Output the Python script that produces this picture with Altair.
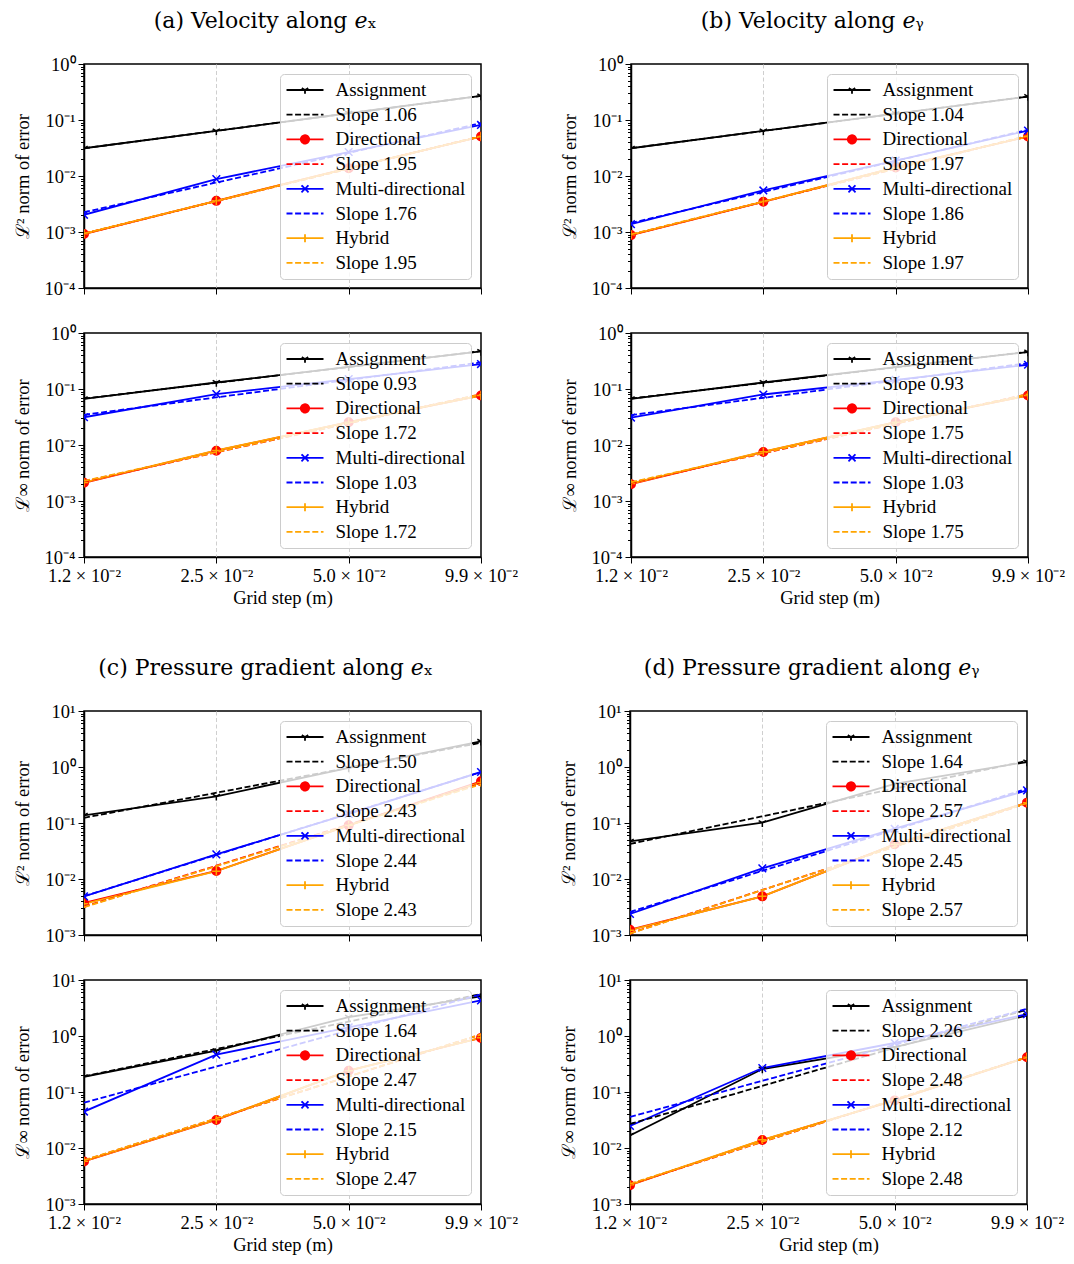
import json
import altair as alt
import pandas as pd

# ---------------- data ----------------
grid_step = [0.012375, 0.02475, 0.0495, 0.099]
x_tick_labels = ["1.2 × 10⁻²", "2.5 × 10⁻²", "5.0 × 10⁻²", "9.9 × 10⁻²"]
series_names = ["Assignment", "Directional", "Multi-directional", "Hybrid"]
series_colors = ["#000000", "#ff0000", "#0000ff", "#ffa500"]

# (a) Velocity along e_x
vx_l2_assignment = [0.0313, 0.0638, 0.132, 0.269]
vx_l2_directional = [0.00092, 0.0036, 0.0138, 0.0506]
vx_l2_multi = [0.00203, 0.0088, 0.0268, 0.0817]
vx_l2_hybrid = [0.00093, 0.0036, 0.0138, 0.0506]
vx_l2_slopes = ["1.06", "1.95", "1.76", "1.95"]

vx_linf_assignment = [0.0667, 0.1306, 0.249, 0.469]
vx_linf_directional = [0.00211, 0.00792, 0.0255, 0.0766]
vx_linf_multi = [0.0313, 0.0813, 0.150, 0.279]
vx_linf_hybrid = [0.00215, 0.0080, 0.0255, 0.0766]
vx_linf_slopes = ["0.93", "1.72", "1.03", "1.72"]

# (b) Velocity along e_y
vy_l2_assignment = [0.0313, 0.0638, 0.130, 0.262]
vy_l2_directional = [0.00088, 0.00346, 0.0142, 0.0506]
vy_l2_multi = [0.00138, 0.00552, 0.0189, 0.0648]
vy_l2_hybrid = [0.00089, 0.0035, 0.0142, 0.0506]
vy_l2_slopes = ["1.04", "1.97", "1.86", "1.97"]

vy_linf_assignment = [0.0667, 0.1306, 0.246, 0.457]
vy_linf_directional = [0.0020, 0.0075, 0.0255, 0.0766]
vy_linf_multi = [0.0309, 0.0798, 0.146, 0.271]
vy_linf_hybrid = [0.00205, 0.0076, 0.0255, 0.0766]
vy_linf_slopes = ["0.93", "1.75", "1.03", "1.75"]

# (c) Pressure gradient along e_x
gx_l2_assignment = [0.137, 0.299, 0.96, 2.87]
gx_l2_directional = [0.00373, 0.0139, 0.0908, 0.555]
gx_l2_multi = [0.0049, 0.0275, 0.145, 0.815]
gx_l2_hybrid = [0.0036, 0.0138, 0.091, 0.53]
gx_l2_slopes = ["1.50", "2.43", "2.44", "2.43"]

gx_linf_assignment = [0.187, 0.547, 2.17, 5.09]
gx_linf_directional = [0.00574, 0.0317, 0.24, 0.925]
gx_linf_multi = [0.0447, 0.464, 1.43, 4.32]
gx_linf_hybrid = [0.0058, 0.032, 0.24, 0.93]
gx_linf_slopes = ["1.64", "2.47", "2.15", "2.47"]

# (d) Pressure gradient along e_y
gy_l2_assignment = [0.0471, 0.1014, 0.5, 1.23]
gy_l2_directional = [0.00124, 0.0049, 0.0416, 0.231]
gy_l2_multi = [0.00237, 0.0155, 0.079, 0.383]
gy_l2_hybrid = [0.00122, 0.0049, 0.0416, 0.231]
gy_l2_slopes = ["1.64", "2.57", "2.45", "2.57"]

gy_linf_assignment = [0.0168, 0.257, 0.63, 2.32]
gy_linf_directional = [0.00216, 0.0139, 0.0708, 0.416]
gy_linf_multi = [0.0247, 0.268, 0.75, 2.45]
gy_linf_hybrid = [0.0022, 0.014, 0.0708, 0.416]
gy_linf_slopes = ["2.26", "2.48", "2.12", "2.48"]

major_vel = [0.0001, 0.001, 0.01, 0.1, 1.0]
major_vel_labels = ["10⁻⁴", "10⁻³", "10⁻²", "10⁻¹", "10⁰"]
major_grad = [0.001, 0.01, 0.1, 1.0, 10.0]
major_grad_labels = ["10⁻³", "10⁻²", "10⁻¹", "10⁰", "10¹"]

panel_titles = [
    "(a) Velocity along 𝑒ₓ",
    "(b) Velocity along 𝑒ᵧ",
    "(c) Pressure gradient along 𝑒ₓ",
    "(d) Pressure gradient along 𝑒ᵧ",
]
l2_title = "ℒ² norm of error"
linf_title = "ℒ∞ norm of error"
x_title = "Grid step (m)"

# ---------------- styling ----------------
SERIF = "Liberation Serif"
TITLE_FONT = "DejaVu Serif"
FS = 18.5
LEG_FS = 19
PLOT_W, PLOT_H = 397, 224

marker_paths = [
    "M0,0L0,1M0,0L-0.866,-0.5M0,0L0.866,-0.5",   # tri_down
    "circle",
    "M-0.9,-0.9L0.9,0.9M-0.9,0.9L0.9,-0.9",       # x
    "M-1,0L1,0M0,-1L0,1",                         # +
]
LINE = "M-2,0L2,0"
legend_marker_paths = [
    LINE + "M0,0L0,0.4M0,0L-0.35,-0.2M0,0L0.35,-0.2",
    LINE + "M-0.45,0A0.45,0.45,0,1,0,0.45,0A0.45,0.45,0,1,0,-0.45,0Z",
    LINE + "M-0.38,-0.38L0.38,0.38M-0.38,0.38L0.38,-0.38",
    LINE + "M0,-0.44L0,0.44",
]
DASH = [6, 2.6]


def minor_ticks(major):
    out = []
    for m in major[:-1]:
        for k in range(2, 10):
            out.append(round(m * k, 12))
    return out


def label_expr(values, labels):
    expr = "''"
    for v, lab in reversed(list(zip(values, labels))):
        expr = f"datum.value == {v!r} ? '{lab}' : {expr}"
    return expr


def make_plot(values, slopes, y_title, major, major_labels, show_x):
    rows = []
    for s, vals in zip(series_names, values):
        for xv, yv in zip(grid_step, vals):
            rows.append({"series": s, "x": xv, "y": yv})
    df = pd.DataFrame(rows)

    keys, leg_colors, leg_paths, leg_dash = [], [], [], []
    for i, (s, sl) in enumerate(zip(series_names, slopes)):
        keys += [f"{2 * i + 1}|{s}", f"{2 * i + 2}|Slope {sl}"]
        leg_colors += [series_colors[i], series_colors[i]]
        leg_paths += [legend_marker_paths[i], LINE]
        leg_dash += [[1, 0], DASH]
    legend_df = pd.DataFrame({"key": keys})

    tick_vals = sorted(major + minor_ticks(major))
    y_axis = alt.Axis(
        values=tick_vals,
        labelExpr=label_expr(major, major_labels),
        tickSize={"condition": {"test": f"indexof({json.dumps(major)}, datum.value) >= 0", "value": 6},
                  "value": 3.5},
        title=y_title,
        grid=False,
        labelPadding=3,
        titlePadding=12,
    )
    edge_test = f"datum.value == {grid_step[0]!r} || datum.value == {grid_step[-1]!r}"
    grid_opacity = {"condition": {"test": edge_test, "value": 0}, "value": 1}
    if show_x:
        x_axis = alt.Axis(values=grid_step, labelExpr=label_expr(grid_step, x_tick_labels),
                          labelFlush=False, title=x_title, grid=True, gridDash=[4, 2.5],
                          gridColor="#cfcfcf", gridOpacity=grid_opacity,
                          tickSize=6, labelPadding=3, titlePadding=4)
    else:
        x_axis = alt.Axis(values=grid_step, labels=False, title=None, grid=True,
                          gridDash=[4, 2.5], gridColor="#cfcfcf", gridOpacity=grid_opacity,
                          tickSize=6)

    xs = alt.Scale(type="log", domain=[grid_step[0], grid_step[-1]], nice=False)
    ys = alt.Scale(type="log", domain=[major[0], major[-1]], nice=False)
    ex = alt.X("x:Q", scale=xs, axis=x_axis)
    ey = alt.Y("y:Q", scale=ys, axis=y_axis)
    color = alt.Color("series:N", scale=alt.Scale(domain=series_names, range=series_colors), legend=None)

    base = alt.Chart(df)
    lines = base.mark_line(strokeWidth=1.8, clip=True).encode(x=ex, y=ey, color=color)
    fits = base.transform_regression("x", "y", method="pow", groupby=["series"]).mark_line(
        strokeWidth=1.8, strokeDash=DASH, clip=True).encode(x=ex, y=ey, color=color)
    points = base.mark_point(filled=True, size=72, strokeWidth=1.5, opacity=1, clip=True).encode(
        x=ex, y=ey,
        fill=alt.Fill("series:N", scale=alt.Scale(domain=series_names, range=series_colors), legend=None),
        stroke=alt.Stroke("series:N", scale=alt.Scale(domain=series_names, range=series_colors), legend=None),
        shape=alt.Shape("series:N", scale=alt.Scale(domain=series_names, range=marker_paths), legend=None),
    )

    leg = alt.Legend(
        title=None, orient="top-right", offset=10,
        labelExpr="split(datum.label, '|')[1]",
        symbolSize=342, symbolStrokeWidth=1.8, symbolOpacity=1, symbolOffset=9,
        labelFont=SERIF, labelFontSize=LEG_FS, labelColor="black", labelOffset=20,
        padding=5.5, rowPadding=3.7,
        strokeColor="#cccccc", fillColor="rgba(255,255,255,0.8)", cornerRadius=4,
    )
    legend_layer = alt.Chart(legend_df).mark_point(filled=True, opacity=0).encode(
        fill=alt.Fill("key:N", scale=alt.Scale(domain=keys, range=leg_colors), legend=leg),
        stroke=alt.Stroke("key:N", scale=alt.Scale(domain=keys, range=leg_colors), legend=leg),
        shape=alt.Shape("key:N", scale=alt.Scale(domain=keys, range=leg_paths), legend=leg),
        strokeDash=alt.StrokeDash("key:N", scale=alt.Scale(domain=keys, range=leg_dash), legend=leg),
    )

    return alt.layer(lines, points, fits, legend_layer).resolve_scale(
        fill="independent", stroke="independent", shape="independent", strokeDash="independent"
    ).properties(width=PLOT_W, height=PLOT_H)


def make_panel(title, top_vals, top_slopes, bot_vals, bot_slopes, major, major_labels):
    top = make_plot(top_vals, top_slopes, l2_title, major, major_labels, False)
    bot = make_plot(bot_vals, bot_slopes, linf_title, major, major_labels, True)
    return alt.vconcat(top, bot, spacing=24).properties(
        title=alt.TitleParams(title, anchor="middle", offset=21, font=TITLE_FONT, fontSize=22,
                              fontWeight="normal", color="black")
    )


panel_a = make_panel(panel_titles[0],
                     [vx_l2_assignment, vx_l2_directional, vx_l2_multi, vx_l2_hybrid], vx_l2_slopes,
                     [vx_linf_assignment, vx_linf_directional, vx_linf_multi, vx_linf_hybrid], vx_linf_slopes,
                     major_vel, major_vel_labels)
panel_b = make_panel(panel_titles[1],
                     [vy_l2_assignment, vy_l2_directional, vy_l2_multi, vy_l2_hybrid], vy_l2_slopes,
                     [vy_linf_assignment, vy_linf_directional, vy_linf_multi, vy_linf_hybrid], vy_linf_slopes,
                     major_vel, major_vel_labels)
panel_c = make_panel(panel_titles[2],
                     [gx_l2_assignment, gx_l2_directional, gx_l2_multi, gx_l2_hybrid], gx_l2_slopes,
                     [gx_linf_assignment, gx_linf_directional, gx_linf_multi, gx_linf_hybrid], gx_linf_slopes,
                     major_grad, major_grad_labels)
panel_d = make_panel(panel_titles[3],
                     [gy_l2_assignment, gy_l2_directional, gy_l2_multi, gy_l2_hybrid], gy_l2_slopes,
                     [gy_linf_assignment, gy_linf_directional, gy_linf_multi, gy_linf_hybrid], gy_linf_slopes,
                     major_grad, major_grad_labels)

row1 = alt.hconcat(panel_a, panel_b, spacing=40)
row2 = alt.hconcat(panel_c, panel_d, spacing=40)
chart = alt.vconcat(row1, row2, spacing=49).properties(
    padding={"left": 4, "top": 2, "right": 0, "bottom": 0}
).configure_view(
    stroke="black", strokeWidth=1.5
).configure_axis(
    domainColor="black", domainWidth=1.5, tickColor="black", tickWidth=1,
    labelColor="black", titleColor="black", labelFont=SERIF, titleFont=SERIF,
    labelFontSize=FS, titleFontSize=FS, titleFontWeight="normal",
)

chart.save("out.html", embed_options={"renderer": "svg", "actions": False})
